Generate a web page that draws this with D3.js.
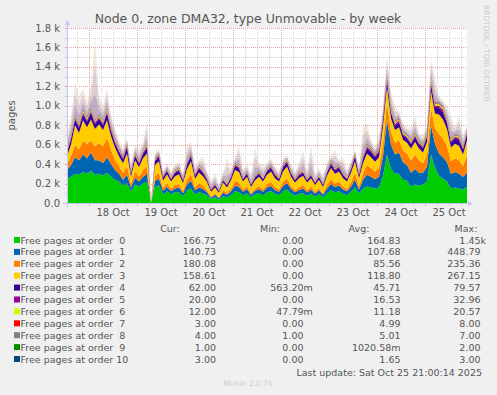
<!DOCTYPE html>
<html>
<head>
<meta charset="utf-8">
<script src="https://cdn.jsdelivr.net/npm/d3@7"></script>
<style>
body { margin: 0; background: #f0f0f0; }
svg { display: block; font-family: "DejaVu Sans", sans-serif; }
text { white-space: pre; }
</style>
</head>
<body>
<svg id="chart" width="497" height="395"></svg>
<script>
// samples every 2 hours, Oct 17 13:00 -> Oct 25 21:00
var startTime = new Date(2025, 9, 17, 13, 0);
var stepHours = 2;

var order0 = [
    250, 270, 300, 290, 320, 300, 330, 290, 300, 280,
    310, 270, 240, 220, 180, 200, 120, 190, 170, 200,
    220, 0, 170, 180, 90, 120, 90, 110, 110, 70,
    130, 150, 90, 110, 100, 80, 40, 60, 35, 70,
    60, 80, 120, 110, 80, 100, 60, 90, 100, 80,
    110, 120, 95, 80, 120, 140, 100, 75, 95, 100,
    75, 95, 65, 90, 60, 100, 130, 110, 120, 95,
    80, 115, 160, 95, 150, 170, 160, 150, 160, 280,
    500, 350, 300, 300, 240, 230, 170, 190, 180, 190,
    220, 500, 360, 280, 250, 220, 150, 160, 150, 140,
    166.75];
var order1 = [
    90, 120, 170, 150, 180, 160, 190, 150, 140, 130,
    160, 130, 100, 80, 60, 90, 40, 70, 50, 70,
    80, 0, 60, 70, 35, 45, 30, 40, 50, 30,
    60, 80, 40, 50, 45, 30, 15, 25, 15, 35,
    25, 40, 60, 55, 35, 45, 25, 35, 45, 35,
    50, 55, 40, 35, 55, 65, 45, 35, 40, 50,
    35, 45, 30, 40, 25, 50, 65, 55, 60, 45,
    40, 55, 80, 45, 90, 120, 110, 95, 110, 200,
    350, 250, 200, 220, 180, 160, 140, 160, 130, 120,
    150, 300, 250, 230, 220, 200, 150, 160, 150, 130,
    140.73];
var order2 = [
    60, 90, 130, 110, 140, 150, 120, 140, 180, 170,
    200, 150, 100, 80, 70, 90, 40, 70, 50, 70,
    80, 0, 50, 60, 30, 40, 25, 35, 35, 25,
    50, 70, 30, 45, 35, 25, 10, 15, 10, 25,
    20, 30, 50, 45, 25, 30, 15, 25, 30, 25,
    35, 40, 30, 25, 40, 50, 30, 25, 30, 35,
    25, 30, 20, 25, 15, 35, 50, 35, 40, 30,
    25, 40, 70, 30, 70, 100, 90, 80, 90, 140,
    180, 130, 120, 130, 120, 120, 130, 150, 130, 100,
    130, 180, 160, 200, 190, 170, 130, 140, 140, 110,
    180.08];
var order3 = [
    80, 120, 200, 170, 210, 170, 220, 180, 190, 170,
    180, 140, 130, 100, 100, 130, 70, 110, 100, 120,
    130, 0, 110, 120, 75, 90, 75, 90, 100, 80,
    110, 130, 90, 110, 95, 80, 50, 60, 45, 80,
    55, 85, 110, 110, 80, 95, 65, 85, 95, 80,
    95, 110, 90, 80, 110, 120, 95, 75, 90, 95,
    75, 85, 70, 85, 65, 95, 115, 100, 105, 85,
    75, 100, 120, 85, 100, 120, 110, 100, 110, 170,
    160, 140, 130, 130, 110, 110, 120, 130, 120, 110,
    130, 170, 150, 200, 200, 170, 140, 150, 150, 120,
    158.61];
var order4 = [
    40, 55, 60, 55, 60, 55, 65, 50, 55, 50,
    70, 50, 45, 45, 40, 65, 30, 45, 35, 45,
    55, 0, 40, 45, 30, 35, 25, 35, 38, 25,
    45, 55, 30, 40, 35, 28, 20, 25, 18, 25,
    22, 28, 40, 38, 25, 30, 20, 28, 32, 25,
    35, 38, 30, 25, 40, 45, 32, 25, 30, 32,
    25, 28, 22, 28, 20, 32, 42, 35, 38, 30,
    25, 35, 50, 30, 45, 55, 55, 45, 55, 65,
    70, 55, 45, 50, 45, 45, 45, 50, 45, 45,
    50, 70, 60, 65, 70, 60, 50, 55, 55, 50,
    62];
var order5 = [
    15, 20, 20, 20, 22, 18, 22, 20, 18, 20,
    25, 20, 18, 15, 15, 20, 10, 15, 12, 15,
    20, 0, 12, 15, 10, 12, 8, 12, 12, 8,
    15, 20, 10, 12, 12, 10, 6, 8, 6, 8,
    8, 10, 14, 12, 8, 10, 6, 8, 10, 8,
    12, 12, 10, 8, 12, 15, 10, 8, 10, 10,
    8, 10, 7, 8, 6, 10, 14, 12, 12, 10,
    8, 12, 15, 10, 15, 18, 18, 15, 18, 22,
    25, 20, 18, 18, 15, 15, 15, 18, 15, 15,
    18, 25, 22, 25, 28, 22, 18, 20, 20, 15,
    20];
var order6 = [
    10, 12, 14, 12, 15, 13, 16, 12, 14, 13,
    16, 12, 11, 10, 9, 12, 7, 10, 8, 10,
    12, 0, 9, 10, 6, 8, 6, 8, 8, 6,
    9, 11, 7, 8, 7, 6, 4, 5, 4, 6,
    5, 6, 8, 8, 6, 7, 5, 6, 7, 6,
    7, 8, 7, 6, 8, 9, 7, 5, 7, 7,
    6, 7, 5, 6, 4, 7, 8, 7, 8, 7,
    6, 7, 10, 7, 9, 11, 11, 10, 11, 14,
    18, 15, 13, 14, 12, 12, 12, 13, 12, 12,
    13, 20, 17, 17, 18, 15, 12, 13, 13, 12,
    12];
var order7 = [
    5, 5, 6, 6, 7, 6, 7, 6, 6, 6,
    7, 6, 5, 5, 4, 6, 3, 5, 4, 5,
    5, 0, 4, 5, 3, 4, 3, 4, 4, 3,
    4, 5, 3, 4, 3, 3, 2, 2, 2, 3,
    2, 3, 4, 4, 3, 3, 2, 3, 3, 3,
    3, 4, 3, 3, 4, 4, 3, 3, 3, 3,
    3, 3, 2, 3, 2, 3, 4, 4, 4, 3,
    3, 4, 5, 3, 5, 6, 6, 5, 6, 7,
    8, 7, 6, 6, 6, 6, 6, 6, 6, 5,
    6, 8, 7, 7, 8, 7, 6, 6, 6, 5,
    3];
var order8 = [
    5, 5, 6, 6, 6, 6, 7, 6, 6, 6,
    7, 6, 5, 5, 5, 6, 4, 5, 4, 5,
    5, 1, 4, 5, 3, 4, 3, 4, 4, 3,
    4, 5, 3, 4, 4, 3, 2, 3, 2, 3,
    3, 3, 4, 4, 3, 4, 3, 3, 4, 3,
    4, 4, 3, 3, 4, 5, 4, 3, 4, 4,
    3, 4, 3, 3, 2, 4, 5, 4, 4, 4,
    3, 4, 5, 4, 5, 6, 6, 5, 6, 7,
    7, 7, 6, 6, 6, 6, 6, 6, 6, 6,
    6, 7, 7, 7, 7, 6, 6, 6, 6, 5,
    4];
var order9 = [
    1, 1, 2, 1, 2, 1, 2, 1, 1, 1,
    2, 1, 1, 1, 1, 1, 0, 1, 1, 1,
    1, 0, 1, 1, 0, 1, 0, 1, 1, 0,
    1, 1, 0, 1, 1, 0, 0, 0, 0, 1,
    0, 1, 1, 1, 0, 1, 0, 1, 1, 0,
    1, 1, 1, 0, 1, 1, 1, 0, 1, 1,
    0, 1, 0, 1, 0, 1, 1, 1, 1, 1,
    0, 1, 1, 1, 1, 1, 1, 1, 1, 2,
    2, 2, 1, 1, 1, 1, 1, 1, 1, 1,
    1, 2, 2, 2, 2, 1, 1, 1, 1, 1,
    1];
var order10 = [
    2, 2, 2, 2, 3, 2, 3, 2, 2, 2,
    3, 2, 2, 2, 1, 2, 1, 2, 1, 2,
    2, 0, 1, 2, 1, 1, 1, 1, 1, 1,
    1, 2, 1, 1, 1, 1, 1, 1, 1, 1,
    1, 1, 2, 1, 1, 1, 1, 1, 1, 1,
    1, 2, 1, 1, 2, 2, 1, 1, 1, 1,
    1, 1, 1, 1, 1, 1, 2, 2, 2, 1,
    1, 2, 2, 1, 2, 2, 2, 2, 2, 3,
    3, 3, 2, 2, 2, 2, 2, 2, 2, 2,
    2, 3, 3, 3, 3, 2, 2, 2, 2, 2,
    3];
// short-lived peaks inside each 2h window (the faded fringe above the stack)
var peakTotal = [
    700, 900, 1230, 1100, 1180, 1050, 1200, 1720, 1100, 1000,
    1190, 900, 780, 640, 560, 660, 420, 600, 560, 620,
    860, 0, 520, 560, 330, 400, 330, 400, 420, 310,
    600, 630, 380, 440, 480, 330, 240, 300, 200, 320,
    470, 350, 470, 600, 350, 400, 300, 570, 420, 380,
    420, 460, 380, 340, 460, 490, 400, 320, 420, 540,
    330, 600, 300, 360, 290, 430, 480, 550, 440, 480,
    340, 440, 540, 380, 800, 820, 650, 580, 700, 1000,
    1510, 1150, 1000, 950, 820, 780, 780, 900, 720, 700,
    800, 1500, 1300, 1100, 1050, 1000, 900, 780, 900, 700,
    800];

var seriesLabels = ["Free pages at order  0", "Free pages at order  1", "Free pages at order  2",
    "Free pages at order  3", "Free pages at order  4", "Free pages at order  5",
    "Free pages at order  6", "Free pages at order  7", "Free pages at order  8",
    "Free pages at order  9", "Free pages at order 10"];
var seriesColors = ["#00cc00", "#0066b3", "#ff8000", "#ffcc00", "#330099", "#990099",
    "#ccff00", "#ff0000", "#808080", "#008f00", "#00487d"];
var curValues = ["166.75", "140.73", "180.08", "158.61", "62.00", "20.00", "12.00", "3.00", "4.00", "1.00", "3.00"];
var minValues = ["0.00", "0.00", "0.00", "0.00", "563.20m", "0.00", "47.79m", "0.00", "1.00", "0.00", "0.00"];
var avgValues = ["164.83", "107.68", "85.56", "118.80", "45.71", "16.53", "11.18", "4.99", "5.01", "1020.58m", "1.65"];
var maxValues = ["1.45k", "448.79", "235.36", "267.15", "79.57", "32.96", "20.57", "8.00", "7.00", "2.00", "3.00"];

var yTicks = [0, 200, 400, 600, 800, 1000, 1200, 1400, 1600, 1800];
var yTickLabels = ["0.0", "0.2 k", "0.4 k", "0.6 k", "0.8 k", "1.0 k", "1.2 k", "1.4 k", "1.6 k", "1.8 k"];
var dayLabels = ["18 Oct", "19 Oct", "20 Oct", "21 Oct", "22 Oct", "23 Oct", "24 Oct", "25 Oct"];

var allSeries = [order0, order1, order2, order3, order4, order5, order6, order7, order8, order9, order10];
var keys = allSeries.map(function(s, i) { return "o" + i; });

var rows = order0.map(function(v, i) {
    var row = {t: d3.timeHour.offset(startTime, i * stepHours)};
    allSeries.forEach(function(s, k) { row[keys[k]] = s[i]; });
    return row;
});

var plot = {left: 67, right: 467, top: 28, bottom: 203};
var endTime = d3.timeHour.offset(startTime, (order0.length - 1) * stepHours);

var x = d3.scaleTime().domain([startTime, endTime]).range([plot.left, plot.right]);
var y = d3.scaleLinear().domain([0, 1800]).range([plot.bottom, plot.top]);

var svg = d3.select("#chart");
svg.append("rect").attr("width", 497).attr("height", 395).attr("fill", "#f0f0f0");
svg.append("rect")
    .attr("x", plot.left).attr("y", plot.top)
    .attr("width", plot.right - plot.left).attr("height", plot.bottom - plot.top)
    .attr("fill", "#ffffff");

svg.append("defs").append("clipPath").attr("id", "plotclip")
    .append("rect")
    .attr("x", plot.left).attr("y", plot.top - 2)
    .attr("width", plot.right - plot.left).attr("height", plot.bottom - plot.top + 2);

// ###### GRID ######
var grid = svg.append("g").attr("stroke-dasharray", "1,1").attr("stroke-width", 1);
d3.range(100, 1801, 100).forEach(function(v) {
    grid.append("line")
        .attr("x1", plot.left).attr("x2", plot.right)
        .attr("y1", Math.round(y(v)) + 0.5).attr("y2", Math.round(y(v)) + 0.5)
        .attr("stroke", v % 200 === 0 ? "#e8a0a0" : "#d2d2d2");
});
d3.timeHour.every(6).range(startTime, endTime).forEach(function(t) {
    var px = Math.round(x(t)) + 0.5;
    grid.append("line")
        .attr("x1", px).attr("x2", px)
        .attr("y1", plot.top).attr("y2", plot.bottom)
        .attr("stroke", t.getHours() === 0 ? "#e8a0a0" : "#d2d2d2");
});

// ###### STACK ######
var stacked = d3.stack().keys(keys)(rows);
var area = d3.area()
    .x(function(d) { return x(d.data.t); })
    .y0(function(d) { return y(d[0]); })
    .y1(function(d) { return y(d[1]); });

var dataLayer = svg.append("g").attr("clip-path", "url(#plotclip)");

// faded fringe between the stacked top and the short peaks
var topOf = function(d) { return stacked[stacked.length - 1][rows.indexOf(d)][1]; };
var hazeBands = [
    {frac: 1.0, color: "#d6c4a8", opacity: 0.35},
    {frac: 0.65, color: "#c0a6c0", opacity: 0.4},
    {frac: 0.3, color: "#9a7cb4", opacity: 0.4}
];
hazeBands.forEach(function(b) {
    dataLayer.append("path")
        .datum(rows)
        .attr("fill", b.color)
        .attr("fill-opacity", b.opacity)
        .attr("d", d3.area()
            .x(function(d) { return x(d.t); })
            .y0(function(d) { return y(topOf(d)); })
            .y1(function(d, i) {
                var top = topOf(d);
                var peak = Math.max(peakTotal[i], top);
                return y(top + (peak - top) * b.frac);
            }));
});

dataLayer.selectAll(".layer")
    .data(stacked)
    .enter().append("path")
    .attr("class", "layer")
    .attr("fill", function(d, i) { return seriesColors[i]; })
    .attr("d", area);

// ###### AXES ######
var axisColor = "#c4c8f0";
svg.append("line")
    .attr("x1", plot.left - 4).attr("x2", plot.right + 3)
    .attr("y1", plot.bottom + 0.5).attr("y2", plot.bottom + 0.5)
    .attr("stroke", axisColor);
svg.append("line")
    .attr("x1", plot.left + 0.5).attr("x2", plot.left + 0.5)
    .attr("y1", plot.bottom + 4).attr("y2", plot.top - 4)
    .attr("stroke", axisColor);
svg.append("path")
    .attr("d", "M" + (plot.right + 1) + "," + (plot.bottom - 2) + " L" + (plot.right + 6) + "," + (plot.bottom + 0.5) +
        " L" + (plot.right + 1) + "," + (plot.bottom + 3) + "Z")
    .attr("fill", axisColor);
svg.append("path")
    .attr("d", "M" + (plot.left - 2) + "," + (plot.top - 3) + " L" + (plot.left + 0.5) + "," + (plot.top - 8) +
        " L" + (plot.left + 3) + "," + (plot.top - 3) + "Z")
    .attr("fill", axisColor);

// tick marks on the axes
d3.timeHour.every(6).range(startTime, endTime).forEach(function(t) {
    var px = Math.round(x(t)) + 0.5;
    svg.append("line").attr("x1", px).attr("x2", px)
        .attr("y1", plot.bottom + 1).attr("y2", plot.bottom + 3)
        .attr("stroke", t.getHours() === 0 ? "#e8a0a0" : "#c8c8c8");
});
d3.range(100, 1801, 100).forEach(function(v) {
    var py = Math.round(y(v)) + 0.5;
    svg.append("line").attr("x1", plot.left - 2).attr("x2", plot.left)
        .attr("y1", py).attr("y2", py)
        .attr("stroke", v % 200 === 0 ? "#e8a0a0" : "#c8c8c8");
});

var textColor = "#555555";
svg.append("g").selectAll("text")
    .data(yTicks)
    .enter().append("text")
    .attr("x", plot.left - 7)
    .attr("y", function(d) { return y(d) + 3.5; })
    .attr("text-anchor", "end")
    .attr("font-size", "10px")
    .attr("fill", textColor)
    .text(function(d, i) { return yTickLabels[i]; });

svg.append("g").selectAll("text")
    .data(dayLabels)
    .enter().append("text")
    .attr("x", function(d, i) { return x(new Date(2025, 9, 18 + i, 12, 0)); })
    .attr("y", 216)
    .attr("text-anchor", "middle")
    .attr("font-size", "10px")
    .attr("fill", textColor)
    .text(function(d) { return d; });

// ###### TITLES ######
svg.append("text")
    .attr("x", 248).attr("y", 23)
    .attr("text-anchor", "middle")
    .attr("font-size", "12.5px")
    .attr("fill", textColor)
    .text("Node 0, zone DMA32, type Unmovable - by week");

svg.append("text")
    .attr("transform", "translate(15," + ((plot.top + plot.bottom) / 2) + ") rotate(-90)")
    .attr("text-anchor", "middle")
    .attr("font-size", "10px")
    .attr("fill", textColor)
    .text("pages");

svg.append("text")
    .attr("transform", "translate(484,5) rotate(90)")
    .attr("font-size", "7.5px")
    .attr("fill", "#cccccc")
    .text("RRDTOOL / TOBI OETIKER");

// ###### LEGEND ######
var legend = svg.append("g").attr("font-size", "9.5px").attr("fill", textColor);
var headers = [["Cur:", 170], ["Min:", 270], ["Avg:", 359], ["Max:", 466]];
headers.forEach(function(h) {
    legend.append("text").attr("x", h[1]).attr("y", 231.5)
        .attr("text-anchor", "middle").text(h[0]);
});

var columns = [[curValues, 216], [minValues, 303.5], [avgValues, 400.5], [maxValues, 480.5]];
seriesLabels.forEach(function(label, i) {
    var cy = 240 + 11.9 * i;
    legend.append("rect")
        .attr("x", 14).attr("y", cy - 3)
        .attr("width", 6).attr("height", 6)
        .attr("fill", seriesColors[i]);
    legend.append("text").attr("x", 20.5).attr("y", cy + 3.5).text(label);
    columns.forEach(function(c) {
        var s = c[0][i];
        var unit = /[a-z]$/.test(s) ? s.slice(-1) : "";
        var num = unit ? s.slice(0, -1) : s;
        if (unit && num.length <= 6) {
            legend.append("text").attr("x", c[1]).attr("y", cy + 3.5)
                .attr("text-anchor", "end").text(num);
            legend.append("text").attr("x", c[1]).attr("y", cy + 3.5).text(unit);
        } else {
            legend.append("text").attr("x", c[1]).attr("y", cy + 3.5)
                .attr("text-anchor", "end").text(s);
        }
    });
});

legend.append("text").attr("x", 482).attr("y", 375.5)
    .attr("text-anchor", "end").text("Last update: Sat Oct 25 21:00:14 2025");

svg.append("text")
    .attr("x", 248).attr("y", 386)
    .attr("text-anchor", "middle")
    .attr("font-size", "7.5px")
    .attr("fill", "#cccccc")
    .text("Munin 2.0.76");
</script>
</body>
</html>
